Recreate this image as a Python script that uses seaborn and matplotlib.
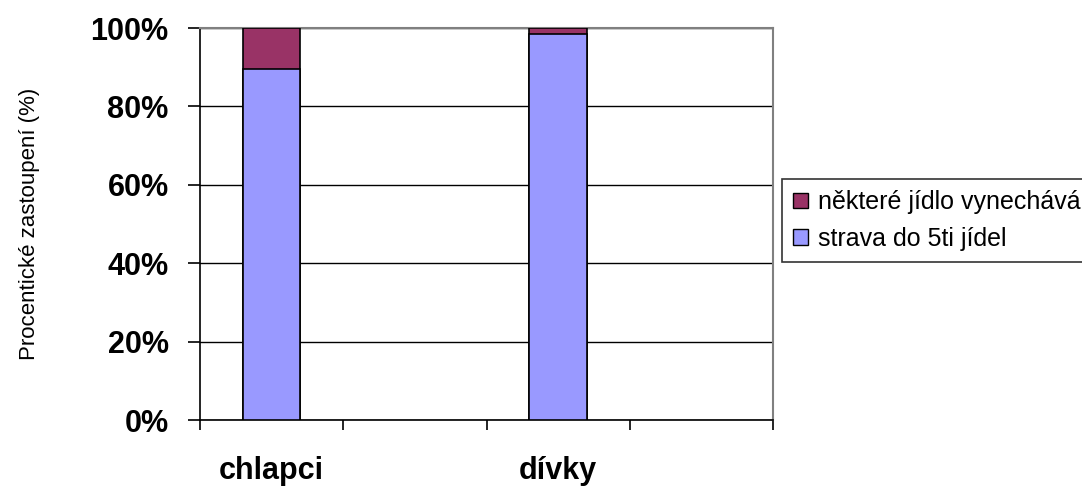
import matplotlib
matplotlib.use("Agg")
import matplotlib.pyplot as plt
import seaborn as sns
import pandas as pd
from matplotlib.ticker import FixedLocator, PercentFormatter
from matplotlib.patches import Patch

# Category slots on the x axis (two labelled groups, two empty slots)
categories = ["chlapci", "", "dívky", " "]
groups = ["chlapci", "dívky"]
strava_do_5ti = [89.6, 98.4]        # strava do 5ti jídel (%)
vynechava = [10.4, 1.6]             # některé jídlo vynechává (%)

color_strava = "#9999FF"
color_vynech = "#993366"

sns.set_style("white")
plt.rcParams["font.family"] = ["Liberation Sans", "DejaVu Sans"]
plt.rcParams["text.color"] = "black"
plt.rcParams["axes.labelcolor"] = "black"
plt.rcParams["xtick.color"] = "black"
plt.rcParams["ytick.color"] = "black"

df = pd.DataFrame({
    "skupina": groups,
    "strava": strava_do_5ti,
    "celkem": [a + b for a, b in zip(strava_do_5ti, vynechava)],
})

fig = plt.figure(figsize=(10.82, 4.87), dpi=100)
ax = fig.add_axes([200 / 1082, 67 / 487, 573 / 1082, 392 / 487])

# Stacked bars: total first (top segment), lower segment drawn over it
sns.barplot(data=df, x="skupina", y="celkem", order=categories, color=color_vynech,
            width=0.4, edgecolor="black", linewidth=1.2, saturation=1, ax=ax, zorder=3)
sns.barplot(data=df, x="skupina", y="strava", order=categories, color=color_strava,
            width=0.4, edgecolor="black", linewidth=1.2, saturation=1, ax=ax, zorder=4)

ax.set_xlim(-0.5, len(categories) - 0.5)
ax.set_ylim(0, 100)

# Gridlines
ax.set_yticks([0, 20, 40, 60, 80, 100])
ax.yaxis.set_major_formatter(PercentFormatter(decimals=0))
ax.grid(axis="y", color="black", linewidth=1.0, zorder=0)
ax.set_axisbelow(True)

# x ticks at slot boundaries, labels at slot centers
ax.xaxis.set_major_locator(FixedLocator([i - 0.5 for i in range(len(categories) + 1)]))
ax.xaxis.set_minor_locator(FixedLocator(range(len(categories))))
ax.set_xticklabels([""] * (len(categories) + 1))
ax.set_xticklabels(categories, minor=True, fontsize=22, fontweight="bold", color="black")
ax.tick_params(axis="x", which="major", direction="out", length=7.2, width=1.2,
               color="black", bottom=True)
ax.tick_params(axis="x", which="minor", length=0, pad=26)
ax.tick_params(axis="y", direction="out", length=8.6, width=1.2, color="black",
               left=True, labelsize=22, pad=14, labelcolor="black")
for lbl in ax.get_yticklabels():
    lbl.set_fontweight("bold")

ax.set_xlabel("")
ax.set_ylabel("Procentické zastoupení (%)", fontsize=16, labelpad=36, color="black")

for side in ["left", "bottom"]:
    ax.spines[side].set_color("black")
    ax.spines[side].set_linewidth(1.2)
for side in ["top", "right"]:
    ax.spines[side].set_visible(True)
    ax.spines[side].set_color("#808080")
    ax.spines[side].set_linewidth(1.5)

# Legend
handles = [
    Patch(facecolor=color_vynech, edgecolor="black", label="některé jídlo vynechává"),
    Patch(facecolor=color_strava, edgecolor="black", label="strava do 5ti jídel"),
]
leg = fig.legend(handles=handles, loc="upper left",
                 bbox_to_anchor=(782 / 1082, 1 - 179 / 487),
                 fontsize=18, frameon=True, fancybox=False, edgecolor="black",
                 handlelength=0.6, handleheight=0.6, handletextpad=0.4,
                 borderpad=0.45, labelspacing=0.5, borderaxespad=0)
leg.get_frame().set_linewidth(1.2)
for t in leg.get_texts():
    t.set_color("black")

fig.savefig("out.png", dpi=100)
